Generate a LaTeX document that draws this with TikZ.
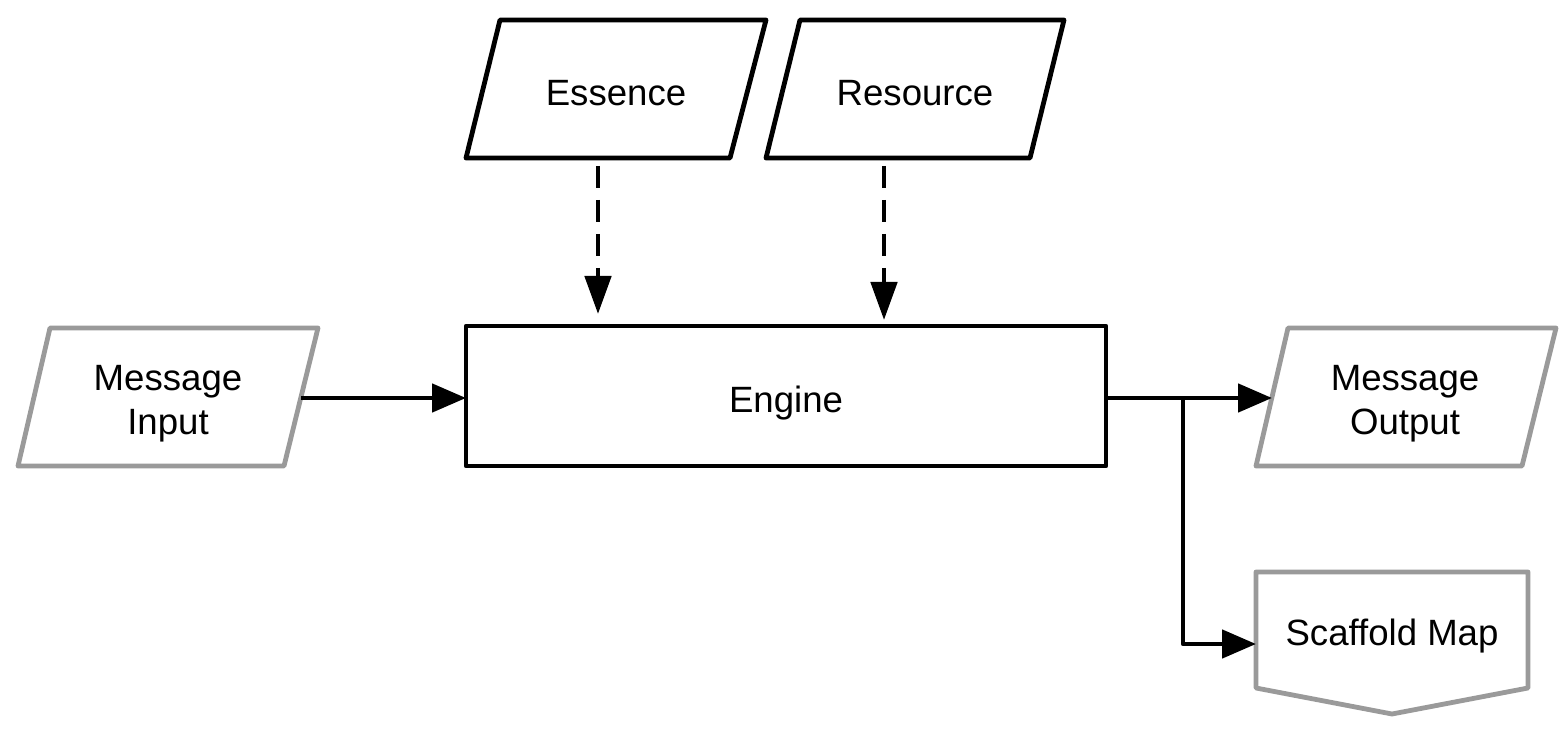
\documentclass[tikz,border=0pt]{standalone}
\usepackage{fontspec}
\setmainfont{Liberation Sans}
\usetikzlibrary{arrows.meta}
\definecolor{edgegray}{HTML}{9A9A9A}
\begin{document}
\begin{tikzpicture}[x=0.5pt,y=-0.5pt,
  lbl/.style={font=\fontsize{18.3pt}{22pt}\selectfont, align=center, inner sep=0pt},
  blk/.style={line width=2.4pt, line join=round, draw=black},
  gry/.style={line width=2.4pt, line join=round, draw=edgegray},
  solidarrow/.style={line width=2.4pt, -{Triangle[length=17pt,width=14pt]}},
  dasharrow/.style={line width=2.4pt, dash pattern=on 11pt off 6pt, -{Triangle[length=19pt,width=13pt]}}
]
\useasboundingbox (0,0) rectangle (1562,742);

% Essence
\draw[blk] (500,20) -- (766,20) -- (730,158) -- (466,158) -- cycle;
\node[lbl] (ess) at (616,93) {Essence};
% Resource
\draw[blk] (800,20) -- (1064,20) -- (1030,158) -- (766,158) -- cycle;
\node[lbl] (res) at (915,93) {Resource};
% Engine
\draw[blk] (466,326) rectangle (1106,466);
\node[lbl] (eng) at (786,403) {Engine};
\coordinate (engE) at (1106,398);
\coordinate (engW) at (466,398);
% Message Input
\draw[gry] (50,328) -- (318,328) -- (284,466) -- (18,466) -- cycle;
\node[lbl] (min) at (168,404) {Message\\Input};
\coordinate (minE) at (301,398);
% Message Output
\draw[gry] (1288,328) -- (1556,328) -- (1522,466) -- (1256,466) -- cycle;
\node[lbl] (mout) at (1405,404) {Message\\Output};
\coordinate (moutW) at (1272,398);
% Scaffold Map
\draw[gry] (1256,572) -- (1528,572) -- (1528,688) -- (1392,714) -- (1256,688) -- cycle;
\node[lbl] (smap) at (1392,636) {Scaffold Map};
\coordinate (smapW) at (1256,644);

% connectors
\coordinate (essOut) at (598,166);
\coordinate (essIn) at (598,314);
\coordinate (resOut) at (884,166);
\coordinate (resIn) at (884,320);
\draw[dasharrow] (essOut) -- (essIn);
\draw[dasharrow] (resOut) -- (resIn);
\draw[solidarrow] (minE) -- (engW);
\draw[solidarrow] (engE) -- (moutW);
\coordinate (split) at (1183,398);
\draw[solidarrow, line join=round] (split) |- (smapW);
\end{tikzpicture}
\end{document}
